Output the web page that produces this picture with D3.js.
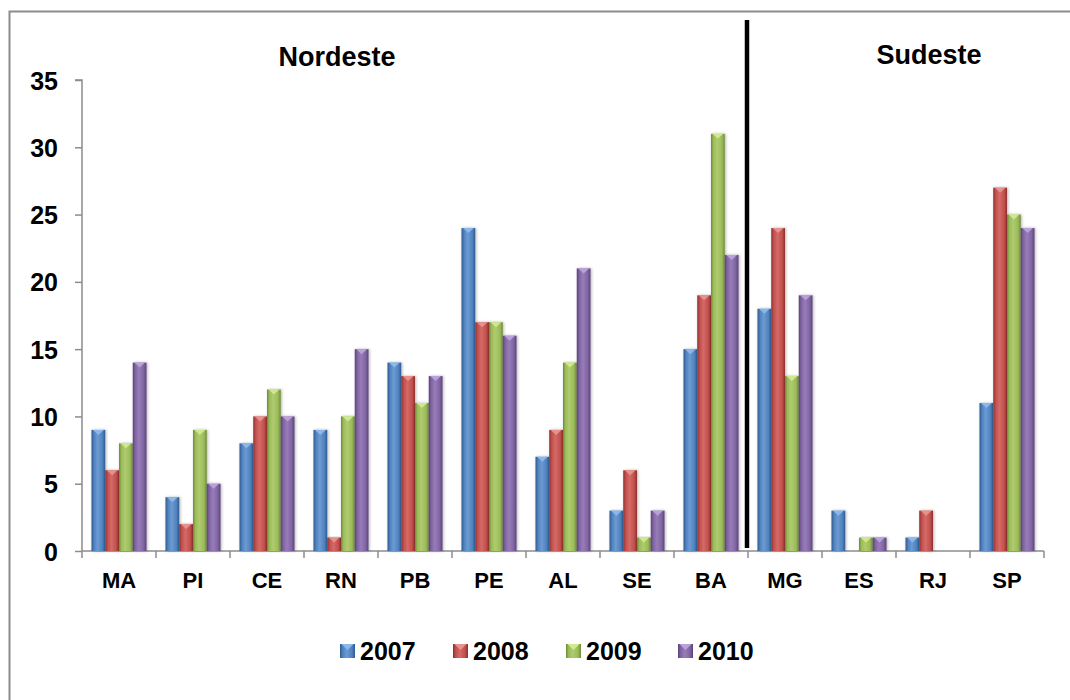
<!DOCTYPE html>
<html>
<head>
<meta charset="utf-8">
<script src="https://cdn.jsdelivr.net/npm/d3@7"></script>
<style>
  html, body { margin: 0; padding: 0; background: #fff; }
  svg { display: block; font-family: Arial, "Liberation Sans", sans-serif; }
</style>
</head>
<body>
<svg id="chart" width="1070" height="700"></svg>
<script>
// States (grouped by region) and yearly counts
const states = ["MA", "PI", "CE", "RN", "PB", "PE", "AL", "SE", "BA", "MG", "ES", "RJ", "SP"];
const years = ["2007", "2008", "2009", "2010"];
const v2007 = [9, 4, 8, 9, 14, 24, 7, 3, 15, 18, 3, 1, 11];
const v2008 = [6, 2, 10, 1, 13, 17, 9, 6, 19, 24, 0, 3, 27];
const v2009 = [8, 9, 12, 10, 11, 17, 14, 1, 31, 13, 1, 0, 25];
const v2010 = [14, 5, 10, 15, 13, 16, 21, 3, 22, 19, 1, 0, 24];
const yTicks = [0, 5, 10, 15, 20, 25, 30, 35];
const regionNames = ["Nordeste", "Sudeste"];

const seriesValues = [v2007, v2008, v2009, v2010];
const colors = [
  { base: "#4F81BD", dark: "#2C5A8F", light: "#6C9BD2", tip: "#8DB8EA" },
  { base: "#C0504D", dark: "#8E2E2B", light: "#D46A67", tip: "#E89390" },
  { base: "#9BBB59", dark: "#6E8A35", light: "#AFCB6F", tip: "#D0EA8F" },
  { base: "#8064A2", dark: "#5A4179", light: "#977DB8", tip: "#BBA3DA" }
];
const FONT = "Arial, 'Liberation Sans', sans-serif";

const svg = d3.select("#chart");
const plot = { left: 82, right: 1044, top: 80, bottom: 551 };

// Outer chart frame
svg.append("rect")
  .attr("x", 9.5).attr("y", 11.5)
  .attr("width", 1100).attr("height", 750)
  .attr("fill", "none").attr("stroke", "#8c8c8c").attr("stroke-width", 2);

const x = d3.scaleBand().domain(states).range([plot.left, plot.right]).paddingInner(0).paddingOuter(0);
const xInner = d3.scaleBand().domain(years).range([0, x.bandwidth()]).paddingOuter(0.69).paddingInner(0);
const y = d3.scaleLinear().domain([0, 35]).range([plot.bottom, plot.top]);

// Gradients for bevelled bars
const defs = svg.append("defs");
colors.forEach((c, i) => {
  const g = defs.append("linearGradient").attr("id", "grad" + i)
    .attr("x1", "0%").attr("x2", "100%").attr("y1", "0%").attr("y2", "0%");
  g.append("stop").attr("offset", "0%").attr("stop-color", c.dark);
  g.append("stop").attr("offset", "18%").attr("stop-color", c.base);
  g.append("stop").attr("offset", "45%").attr("stop-color", c.light);
  g.append("stop").attr("offset", "80%").attr("stop-color", c.base);
  g.append("stop").attr("offset", "100%").attr("stop-color", c.dark);
});
const shadow = defs.append("filter").attr("id", "shadow").attr("x", "-30%").attr("y", "-5%").attr("width", "160%").attr("height", "110%");
shadow.append("feGaussianBlur").attr("in", "SourceAlpha").attr("stdDeviation", 1.5).attr("result", "b");
shadow.append("feOffset").attr("in", "b").attr("dx", 1).attr("dy", 0).attr("result", "o");
shadow.append("feComponentTransfer").attr("in", "o").attr("result", "s")
  .append("feFuncA").attr("type", "linear").attr("slope", 0.3);
const merge = shadow.append("feMerge");
merge.append("feMergeNode").attr("in", "s");
merge.append("feMergeNode").attr("in", "SourceGraphic");

// Y axis
const yAxis = d3.axisLeft(y).tickValues(yTicks).tickSize(7).tickPadding(17).tickFormat(d3.format("d"));
const gy = svg.append("g").attr("transform", `translate(${plot.left},0)`).call(yAxis);
gy.select(".domain").attr("stroke", "#8c8c8c").attr("stroke-width", 1.5).attr("d", `M-7,${plot.top}H0V${plot.bottom}`);
gy.selectAll(".tick line").attr("stroke", "#8c8c8c").attr("stroke-width", 1.5);
gy.selectAll(".tick text").attr("font-size", 25).attr("font-weight", "bold").attr("fill", "#000")
  .attr("font-family", FONT).attr("dy", "0.36em");

// X axis
const xAxis = d3.axisBottom(x).tickSize(0).tickPadding(21);
const gx = svg.append("g").attr("transform", `translate(0,${plot.bottom})`).call(xAxis);
gx.select(".domain").attr("stroke", "#8c8c8c").attr("stroke-width", 1.5).attr("d", `M${plot.left},0H${plot.right}`);
gx.selectAll(".tick text").attr("font-size", 22).attr("font-weight", "bold").attr("fill", "#000")
  .attr("font-family", FONT).attr("dy", "0.71em");
// Category separators on the x axis
gx.selectAll(".sep").data(d3.range(states.length + 1)).enter().append("line")
  .attr("x1", i => plot.left + i * x.bandwidth())
  .attr("x2", i => plot.left + i * x.bandwidth())
  .attr("y1", 0).attr("y2", 7)
  .attr("stroke", "#8c8c8c").attr("stroke-width", 1.5);

// Bars
const groups = svg.append("g").selectAll("g.state").data(states).enter().append("g")
  .attr("transform", d => `translate(${x(d)},0)`);
groups.each(function (state, si) {
  const g = d3.select(this);
  years.forEach((yr, k) => {
    const v = seriesValues[k][si];
    if (v <= 0) return;
    const bx = xInner(yr), bw = xInner.bandwidth();
    const top = y(v), h = y(0) - y(v);
    g.append("rect")
      .attr("x", bx).attr("y", top).attr("width", bw).attr("height", h)
      .attr("fill", `url(#grad${k})`).attr("filter", "url(#shadow)");
    const th = Math.min(5, h);
    g.append("path")
      .attr("d", `M${bx + 1.5},${top}L${bx + bw - 1.5},${top}L${bx + bw / 2},${top + th}Z`)
      .attr("fill", colors[k].tip).attr("opacity", 0.95);
  });
});

// Region divider and labels
const divX = x("MG");
svg.append("line").attr("x1", divX - 1).attr("x2", divX - 1).attr("y1", 20).attr("y2", plot.bottom - 3)
  .attr("stroke", "#000").attr("stroke-width", 4.5);
const regionX = [337, 929];
svg.selectAll("text.region").data(regionNames).enter().append("text")
  .attr("class", "region")
  .attr("x", (d, i) => regionX[i]).attr("y", (d, i) => i === 0 ? 66 : 64)
  .attr("text-anchor", "middle").attr("font-size", 27).attr("font-weight", "bold")
  .attr("font-family", FONT).text(d => d);

// Legend
const legendX = [340, 453, 566, 678];
const legend = svg.append("g").selectAll("g").data(years).enter().append("g")
  .attr("transform", (d, i) => `translate(${legendX[i]},644)`);
legend.append("rect").attr("width", 15).attr("height", 14)
  .attr("fill", (d, i) => `url(#grad${i})`);
legend.append("path").attr("d", "M1.5,0L13.5,0L7.5,6Z").attr("fill", (d, i) => colors[i].tip);
legend.append("text").attr("x", 20).attr("y", 16).attr("font-size", 25).attr("font-weight", "bold")
  .attr("font-family", FONT).text(d => d);
</script>
</body>
</html>
